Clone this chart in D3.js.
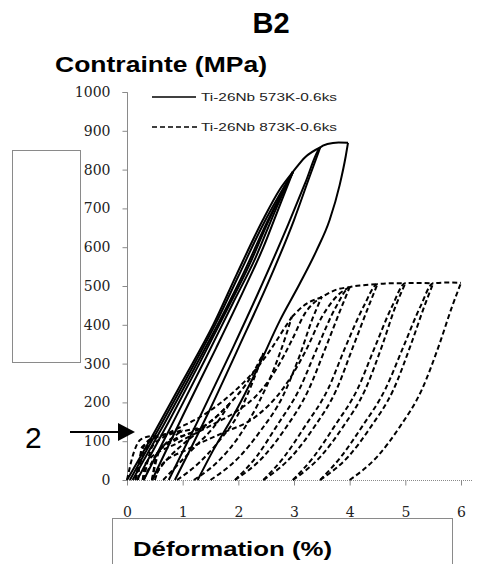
<!DOCTYPE html>
<html><head><meta charset="utf-8">
<script src="https://cdn.jsdelivr.net/npm/d3@7"></script>
<style>
html,body{margin:0;padding:0;background:#fff;}
svg{display:block;}
</style></head>
<body>
<svg id="c" width="478" height="564"></svg>
<script>
// ---- data ----
const title = "B2";
const yTitle = "Contrainte (MPa)";
const xTitle = "Déformation (%)";
const xTicks = [0,1,2,3,4,5,6];
const yTicks = [0,100,200,300,400,500,600,700,800,900,1000];
const seriesNames = ["Ti-26Nb 573K-0.6ks","Ti-26Nb 873K-0.6ks"];

// Ti-26Nb 573K-0.6ks : branches [strain %, stress MPa]
const ti573Load = [
  [[0,0],[0.5,125],[1.0,255],[1.55,400],[1.97,530],[2.44,670],[2.75,750],[2.98,794],[3.2,832],[3.47,857]],
  [[0.05,0],[0.6,140],[1.1,270],[1.6,405],[2.0,525],[2.45,660],[2.98,794]],
  [[0.1,0],[0.65,140],[1.2,285],[1.7,420],[2.1,535],[2.5,660],[2.98,794]],
  [[0.75,0],[1.3,160],[1.9,340],[2.35,480],[2.9,660],[3.2,765],[3.47,857],[3.6,866],[3.8,870],[3.97,869]]
];
const ti573Unload = [
  [[0.18,0],[0.75,150],[1.3,300],[1.8,440],[2.2,555],[2.55,670],[2.98,794]],
  [[0.3,0],[0.85,155],[1.4,310],[1.9,455],[2.3,570],[2.65,690],[2.98,794]],
  [[0.45,0],[1.0,165],[1.6,340],[2.1,490],[2.45,600],[2.75,710],[2.98,794]],
  [[0.86,0],[1.45,170],[2.0,340],[2.6,530],[3.0,670],[3.25,770],[3.47,857]],
  [[1.27,0],[1.55,77],[1.9,163],[2.33,283],[2.75,412],[3.1,505],[3.4,590],[3.64,670],[3.82,760],[3.93,835],[3.97,869]]
];

// Ti-26Nb 873K-0.6ks : branches
const ti873Load = [
  [[0,0],[0.12,70],[0.25,105],[0.5,115]],
  [[0.15,0],[0.28,80],[0.45,108],[0.75,120],[1.0,128]],
  [[0.3,0],[0.45,85],[0.65,110],[1.0,125],[1.4,137]],
  [[0.45,0],[0.6,80],[0.85,105],[1.2,125],[1.5,150],[1.85,198]],
  [[0.45,0],[0.55,70],[0.9,105],[1.4,140],[1.85,198],[2.2,260],[2.45,327]],
  [[0.2,0],[0.27,85],[0.8,125],[1.4,170],[1.9,225],[2.3,283],[2.6,340],[2.8,385],[2.96,420]],
  [[0.28,0],[0.34,44],[0.9,95],[1.5,140],[2.0,180],[2.3,214],[2.7,290],[2.96,360],[3.2,430],[3.5,472]],
  [[0.5,0],[0.6,35],[1.1,80],[1.7,120],[2.3,162],[2.8,235],[3.2,330],[3.5,420],[3.8,478],[4.0,497]],
  [[1.94,0],[2.33,61],[2.68,137],[3.1,235],[3.43,345],[3.75,445],[4.0,497],[4.25,502],[4.5,505]],
  [[2.45,0],[2.83,61],[3.19,137],[3.61,234],[3.93,345],[4.25,447],[4.5,505],[4.75,507],[5.0,507]],
  [[2.98,0],[3.36,61],[3.72,137],[4.14,234],[4.46,345],[4.76,447],[5.0,507],[5.25,508],[5.5,507]],
  [[3.47,0],[3.85,61],[4.22,137],[4.64,234],[4.97,345],[5.27,447],[5.5,507],[5.75,509],[6.0,508]]
];
const ti873Envelope = [[2.96,420],[3.2,452],[3.5,472],[3.75,490],[4.0,497]];
const ti873Unload = [
  [[0.15,0],[0.28,60],[0.4,95],[0.5,115]],
  [[0.3,0],[0.5,60],[0.7,95],[0.9,118],[1.0,128]],
  [[0.45,0],[0.7,50],[0.95,85],[1.2,115],[1.4,137]],
  [[0.65,0],[0.95,45],[1.25,90],[1.55,135],[1.85,198]],
  [[0.9,0],[1.3,45],[1.65,100],[2.0,170],[2.25,250],[2.45,327]],
  [[1.2,0],[1.65,50],[2.0,110],[2.35,195],[2.65,290],[2.85,370],[2.96,420]],
  [[1.5,0],[2.0,57],[2.4,127],[2.8,216],[3.1,320],[3.33,415],[3.5,472]],
  [[1.94,0],[2.45,60],[2.85,134],[3.25,229],[3.56,338],[3.83,437],[4.0,497]],
  [[2.45,0],[2.96,61],[3.36,136],[3.76,232],[4.06,343],[4.33,444],[4.5,505]],
  [[2.98,0],[3.48,61],[3.88,137],[4.28,233],[4.58,345],[4.82,446],[5.0,507]],
  [[3.47,0],[3.98,61],[4.38,137],[4.79,234],[5.09,345],[5.34,447],[5.5,507]],
  [[4.0,0],[4.5,61],[4.9,137],[5.3,234],[5.6,345],[5.84,447],[6.0,508]]
];

// ---- drawing ----
const svg = d3.select("#c");
const x = d3.scaleLinear().domain([0,6]).range([127,461]);
const y = d3.scaleLinear().domain([0,1000]).range([480,92]);
const gray = "#8a8a8a";

// decorative boxes
svg.append("rect").attr("x",12.5).attr("y",150.5).attr("width",68).attr("height",212)
  .attr("fill","none").attr("stroke",gray).attr("stroke-width",1);
svg.append("rect").attr("x",112.5).attr("y",518.5).attr("width",340).attr("height",60)
  .attr("fill","none").attr("stroke",gray).attr("stroke-width",1);

// titles
svg.append("text").attr("x",271).attr("y",33).attr("text-anchor","middle")
  .attr("font-family","Liberation Sans, Arial, sans-serif").attr("font-weight","bold")
  .attr("font-size",29).attr("fill","#000").text(title);
svg.append("text").attr("x",55).attr("y",72)
  .attr("font-family","Liberation Sans, Arial, sans-serif").attr("font-weight","bold")
  .attr("font-size",22).attr("textLength",212).attr("lengthAdjust","spacingAndGlyphs")
  .attr("fill","#000").text(yTitle);
svg.append("text").attr("x",133).attr("y",556)
  .attr("font-family","Liberation Sans, Arial, sans-serif").attr("font-weight","bold")
  .attr("font-size",21).attr("textLength",199).attr("lengthAdjust","spacingAndGlyphs")
  .attr("fill","#000").text(xTitle);

// axes
const yAxis = d3.axisLeft(y).tickValues(yTicks).tickSize(5).tickPadding(12).tickFormat(d3.format("d"));
const gy = svg.append("g").attr("transform","translate(127.5,0)").call(yAxis);
gy.select(".domain").attr("stroke",gray).attr("d","M-5,92.5H0V480.5");
gy.selectAll(".tick line").attr("stroke",gray);
gy.selectAll(".tick text").attr("font-family","DejaVu Serif, serif").attr("font-size",14)
  .attr("fill","#222");

const xAxis = d3.axisBottom(x).tickValues(xTicks).tickSize(5).tickPadding(22).tickFormat(d3.format("d"));
const gx = svg.append("g").attr("transform","translate(0,480.5)").call(xAxis);
gx.select(".domain").attr("stroke",gray).attr("stroke-dasharray","1,1").attr("d","M127,0H472");
gx.selectAll(".tick line").attr("stroke",gray);
gx.selectAll(".tick text").attr("font-family","DejaVu Serif, serif").attr("font-size",14)
  .attr("fill","#222");

// curves
const line = d3.line().x(d=>x(d[0])).y(d=>y(d[1])).curve(d3.curveMonotoneX);
const gc = svg.append("g").attr("fill","none").attr("stroke-linejoin","round");
[...ti873Load, ti873Envelope, ...ti873Unload].forEach(b=>{
  gc.append("path").attr("d",line(b)).attr("stroke","#000").attr("stroke-width",2)
    .attr("stroke-dasharray","5,3");
});
[...ti573Load, ...ti573Unload].forEach(b=>{
  gc.append("path").attr("d",line(b)).attr("stroke","#000").attr("stroke-width",2);
});

// legend
const lg = svg.append("g");
const legendRows = [{name:seriesNames[0],dash:null,y:97},{name:seriesNames[1],dash:"5,3",y:127}];
legendRows.forEach(r=>{
  lg.append("line").attr("x1",152).attr("x2",r.dash?200:196).attr("y1",r.y).attr("y2",r.y)
    .attr("stroke","#000").attr("stroke-width",1.6).attr("stroke-dasharray",r.dash);
  lg.append("text").attr("x",201).attr("y",r.y+4).attr("font-family","Liberation Sans, Arial, sans-serif")
    .attr("font-size",11.5).attr("textLength",136).attr("lengthAdjust","spacingAndGlyphs")
    .attr("fill","#222").text(r.name);
});

// arrow annotation "2"
svg.append("text").attr("x",25).attr("y",448).attr("font-family","Liberation Sans, Arial, sans-serif")
  .attr("font-size",30).attr("fill","#000").text("2");
svg.append("line").attr("x1",70).attr("x2",120).attr("y1",432).attr("y2",432)
  .attr("stroke","#000").attr("stroke-width",2);
svg.append("path").attr("d","M118,423L135,432L118,441Z").attr("fill","#000");
</script>
</body></html>
